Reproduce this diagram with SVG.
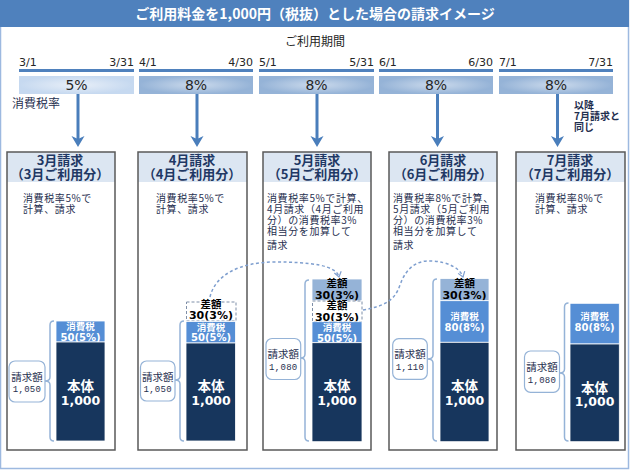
<svg xmlns="http://www.w3.org/2000/svg" width="630" height="470" viewBox="0 0 630 470">
<style>
.title{font-family:"Noto Sans CJK JP",sans-serif;font-weight:bold;font-size:14px;fill:#fff;text-anchor:middle}
.period{font-family:"Noto Sans CJK JP",sans-serif;font-size:12px;fill:#262626;text-anchor:middle}
.date{font-family:"DejaVu Sans",sans-serif;font-size:11px;fill:#262626}
.end{text-anchor:end}
.rate{font-family:"DejaVu Sans",sans-serif;font-size:14px;fill:#262626;text-anchor:middle}
.lbl{font-family:"Noto Sans CJK JP",sans-serif;font-size:12px;fill:#1F2F4F}
.note{font-family:"Noto Sans CJK JP",sans-serif;font-weight:bold;font-size:10px;fill:#1F2F4F}
.hd{font-family:"Noto Sans CJK JP",sans-serif;font-weight:bold;font-size:13px;fill:#1F3864;text-anchor:middle}
.desc{font-family:"Noto Sans CJK JP",sans-serif;font-size:10px;fill:#1F2F4F;letter-spacing:0.6px}
.boxbg{fill:#fff}
.band{fill:#DCE6F2}
.boxln{fill:none;stroke:#595959;stroke-width:1.5}
.body{fill:#17365D;stroke:#fff;stroke-width:0.8}
.tax{fill:#558ED5;stroke:#fff;stroke-width:0.8}
.diff{fill:#95B3D7;stroke:#fff;stroke-width:0.8}
.dash{fill:#fff;stroke:#7F8FA8;stroke-width:1;stroke-dasharray:3 2}
.wt{font-family:"Noto Sans CJK JP",sans-serif;font-weight:bold;fill:#fff;text-anchor:middle;font-size:9.5px}
.wn{font-family:"DejaVu Sans",sans-serif;font-weight:bold;fill:#fff;text-anchor:middle;font-size:10px}
.bbig{font-family:"Noto Sans CJK JP",sans-serif;font-weight:bold;fill:#fff;text-anchor:middle;font-size:13.5px}
.nbig{font-family:"DejaVu Sans",sans-serif;font-weight:bold;fill:#fff;text-anchor:middle;font-size:12.5px}
.kt{font-family:"Noto Sans CJK JP",sans-serif;font-weight:bold;fill:#000;text-anchor:middle;font-size:10.5px}
.kn{font-family:"DejaVu Sans",sans-serif;font-weight:bold;fill:#000;text-anchor:middle;font-size:11px}
.brace{fill:none;stroke:#95B3D7;stroke-width:1.5}
.amt{fill:#fff;stroke:#95B3D7;stroke-width:1.2}
.at{font-family:"Noto Sans CJK JP",sans-serif;font-size:10.5px;fill:#1F2F4F;text-anchor:middle}
.an{font-family:"Liberation Mono",monospace;font-size:9px;letter-spacing:0.3px;fill:#1F2F4F;text-anchor:middle}
.arr{stroke:#4A7EBB;stroke-width:3;fill:none}
.curve{fill:none;stroke:#7F9FCF;stroke-width:1.5;stroke-dasharray:3 2.5}
.tl{fill:#4F81BD}
</style>
<defs>
<radialGradient id="g5" cx="0.5" cy="0.5" r="0.5">
<stop offset="0" stop-color="#E8EFF8"/><stop offset="1" stop-color="#C6D9F0"/>
</radialGradient>
<radialGradient id="g8" cx="0.5" cy="0.5" r="0.5">
<stop offset="0" stop-color="#CBDAEC"/><stop offset="1" stop-color="#95B3D7"/>
</radialGradient>
<marker id="ah" markerUnits="userSpaceOnUse" viewBox="0 -7 14 14" refX="6" refY="0" markerWidth="14" markerHeight="14" orient="auto">
<path d="M0,-6.5 L11,0 L0,6.5 L3,0 z" fill="#4A7EBB"/>
</marker>
<marker id="vh" markerUnits="userSpaceOnUse" viewBox="-6 -5 8 10" refX="0" refY="0" markerWidth="8" markerHeight="10" orient="auto">
<path d="M-5,-3.5 L0,0 L-5,3.5" fill="none" stroke="#7F9FCF" stroke-width="1.2"/>
</marker>
</defs>

<rect x="0.5" y="0.5" width="628" height="468" fill="#fff" stroke="#9DB9E0" stroke-width="1.5"/>
<rect x="0" y="0" width="629" height="27" fill="#4F81BD"/>
<text class="title" x="315" y="19">ご利用料金を1,000円（税抜）とした場合の請求イメージ</text>

<g id="timeline">
<text class="period" x="315" y="46">ご利用期間</text>
<text class="date" x="19" y="66">3/1</text><text class="date end" x="134" y="66">3/31</text>
<text class="date" x="139" y="66">4/1</text><text class="date end" x="253" y="66">4/30</text>
<text class="date" x="259" y="66">5/1</text><text class="date end" x="374" y="66">5/31</text>
<text class="date" x="379" y="66">6/1</text><text class="date end" x="493" y="66">6/30</text>
<text class="date" x="499" y="66">7/1</text><text class="date end" x="613" y="66">7/31</text>
<rect class="tl" x="19" y="69" width="115" height="3"/>
<rect class="tl" x="139" y="69" width="114" height="3"/>
<rect class="tl" x="259" y="69" width="115" height="3"/>
<rect class="tl" x="379" y="69" width="114" height="3"/>
<rect class="tl" x="499" y="69" width="114" height="3"/>
<rect x="19" y="76" width="115" height="18" fill="url(#g5)"/>
<rect x="139" y="76" width="114" height="18" fill="url(#g8)"/>
<rect x="259" y="76" width="115" height="18" fill="url(#g8)"/>
<rect x="379" y="76" width="114" height="18" fill="url(#g8)"/>
<rect x="499" y="76" width="114" height="18" fill="url(#g8)"/>
<text class="rate" x="76.5" y="90">5%</text>
<text class="rate" x="196" y="90">8%</text>
<text class="rate" x="316.5" y="90">8%</text>
<text class="rate" x="436" y="90">8%</text>
<text class="rate" x="556" y="90">8%</text>
<text class="lbl" x="12" y="108">消費税率</text>
<text class="note" x="574" y="109">以降</text>
<text class="note" x="574" y="120">7月請求と</text>
<text class="note" x="574" y="131">同じ</text>
</g>

<g id="bill-mar">
<rect class="boxbg" x="7" y="152" width="108" height="298"/>
<rect class="band" x="7" y="152" width="108" height="30"/>
<rect class="boxln" x="7" y="152" width="108" height="298"/>
<text class="hd" x="60" y="165">3月請求</text>
<text class="hd" x="60" y="179">（3月ご利用分）</text>
<text class="desc" x="23" y="202">消費税率5%で</text>
<text class="desc" x="23" y="213">計算、請求</text>
<rect class="tax" x="56" y="321" width="49" height="21"/>
<text class="wt" x="80.5" y="330">消費税</text>
<text class="wn" x="80.5" y="340.5">50(5%)</text>
<rect class="body" x="56" y="342" width="49" height="99"/>
<text class="bbig" x="80.5" y="391">本体</text>
<text class="nbig" x="80.5" y="404.5">1,000</text>
<path class="brace" d="M54,321 Q50,321 50,325 L50,377 Q50,381 45,381 Q50,381 50,385 L50,437 Q50,441 54,441"/>
<rect class="amt" x="9" y="361" width="36" height="41" rx="6"/>
<text class="at" x="27" y="381">請求額</text>
<text class="an" x="27" y="392">1,050</text>
</g>

<g id="bill-apr">
<rect class="boxbg" x="138" y="152" width="109" height="298"/>
<rect class="band" x="138" y="152" width="109" height="30"/>
<rect class="boxln" x="138" y="152" width="109" height="298"/>
<text class="hd" x="192" y="165">4月請求</text>
<text class="hd" x="192" y="179">（4月ご利用分）</text>
<text class="desc" x="156" y="202">消費税率5%で</text>
<text class="desc" x="156" y="213">計算、請求</text>
<rect class="dash" x="186.5" y="302" width="49.5" height="19"/>
<text class="kt" x="211" y="307.5">差額</text>
<text class="kn" x="211" y="318.5">30(3%)</text>
<rect class="tax" x="186" y="321.5" width="49.5" height="21.5"/>
<text class="wt" x="211" y="330.5">消費税</text>
<text class="wn" x="211" y="341">50(5%)</text>
<rect class="body" x="186" y="343" width="49.5" height="98"/>
<text class="bbig" x="211" y="391">本体</text>
<text class="nbig" x="211" y="404.5">1,000</text>
<path class="brace" d="M184,321 Q180,321 180,325 L180,376 Q180,380 175,380 Q180,380 180,384 L180,437 Q180,441 184,441"/>
<rect class="amt" x="140.5" y="361" width="34.5" height="40" rx="6"/>
<text class="at" x="157.7" y="380.5">請求額</text>
<text class="an" x="157.7" y="391.5">1,050</text>
</g>

<g id="bill-may">
<rect class="boxbg" x="263" y="152" width="108" height="298"/>
<rect class="band" x="263" y="152" width="108" height="30"/>
<rect class="boxln" x="263" y="152" width="108" height="298"/>
<text class="hd" x="317" y="165">5月請求</text>
<text class="hd" x="317" y="179">（5月ご利用分）</text>
<text class="desc" x="267" y="202">消費税率5%で計算、</text>
<text class="desc" x="267" y="213">4月請求（4月ご利用</text>
<text class="desc" x="267" y="224">分）の消費税率3%</text>
<text class="desc" x="267" y="235">相当分を加算して</text>
<text class="desc" x="267" y="249">請求</text>
<rect class="diff" x="312" y="279" width="50" height="21.7"/>
<text class="kt" x="337" y="286.5">差額</text>
<text class="kn" x="337" y="298.5">30(3%)</text>
<rect class="dash" x="312.5" y="301" width="49.5" height="20.5"/>
<text class="kt" x="337" y="309">差額</text>
<text class="kn" x="337" y="320.5">30(3%)</text>
<rect class="tax" x="312" y="321.7" width="50" height="21"/>
<text class="wt" x="337" y="331">消費税</text>
<text class="wn" x="337" y="341.5">50(5%)</text>
<rect class="body" x="312" y="342.7" width="50" height="99"/>
<text class="bbig" x="337" y="391">本体</text>
<text class="nbig" x="337" y="404.5">1,000</text>
<path class="brace" d="M309,280 Q305,280 305,284 L305,354 Q305,358 300.5,358 Q305,358 305,362 L305,437 Q305,441 309,441"/>
<rect class="amt" x="266" y="338.5" width="34.7" height="41" rx="6"/>
<text class="at" x="283.3" y="358">請求額</text>
<text class="an" x="283.3" y="369.5">1,080</text>
</g>

<g id="bill-jun">
<rect class="boxbg" x="389" y="152" width="108" height="298"/>
<rect class="band" x="389" y="152" width="108" height="30"/>
<rect class="boxln" x="389" y="152" width="108" height="298"/>
<text class="hd" x="443" y="165">6月請求</text>
<text class="hd" x="443" y="179">（6月ご利用分）</text>
<text class="desc" x="393" y="202">消費税率8%で計算、</text>
<text class="desc" x="393" y="213">5月請求（5月ご利用</text>
<text class="desc" x="393" y="224">分）の消費税率3%</text>
<text class="desc" x="393" y="235">相当分を加算して</text>
<text class="desc" x="393" y="249">請求</text>
<rect class="diff" x="440" y="278.5" width="49" height="22.2"/>
<text class="kt" x="464.5" y="286.5">差額</text>
<text class="kn" x="464.5" y="298.5">30(3%)</text>
<rect class="tax" x="440" y="300.7" width="49" height="41.6"/>
<text class="wt" x="464.5" y="320">消費税</text>
<text class="wn" x="464.5" y="331">80(8%)</text>
<rect class="body" x="440" y="342.3" width="49" height="99.4"/>
<text class="bbig" x="464.5" y="391">本体</text>
<text class="nbig" x="464.5" y="404.5">1,000</text>
<path class="brace" d="M437,279 Q433,279 433,283 L433,355 Q433,359 427.5,359 Q433,359 433,363 L433,437 Q433,441 437,441"/>
<rect class="amt" x="392.7" y="338.7" width="34.6" height="40.6" rx="6"/>
<text class="at" x="410" y="358">請求額</text>
<text class="an" x="410" y="369.5">1,110</text>
</g>

<g id="bill-jul">
<rect class="boxbg" x="516" y="152" width="109" height="298"/>
<rect class="band" x="516" y="152" width="109" height="30"/>
<rect class="boxln" x="516" y="152" width="109" height="298"/>
<text class="hd" x="570" y="165">7月請求</text>
<text class="hd" x="570" y="179">（7月ご利用分）</text>
<text class="desc" x="535" y="202">消費税率8%で</text>
<text class="desc" x="535" y="213">計算、請求</text>
<rect class="tax" x="570" y="303.3" width="49.3" height="40.7"/>
<text class="wt" x="594.6" y="320">消費税</text>
<text class="wn" x="594.6" y="331">80(8%)</text>
<rect class="body" x="570" y="344" width="49.3" height="97.7"/>
<text class="bbig" x="594.6" y="392.5">本体</text>
<text class="nbig" x="594.6" y="406">1,000</text>
<path class="brace" d="M568.5,303 Q564.5,303 564.5,307 L564.5,369 Q564.5,373 559.5,373 Q564.5,373 564.5,377 L564.5,437 Q564.5,441 568.5,441"/>
<rect class="amt" x="524.5" y="351" width="35" height="41.3" rx="6"/>
<text class="at" x="542" y="371">請求額</text>
<text class="an" x="542" y="382.5">1,080</text>
</g>

<g id="connectors">
<line class="arr" x1="78" y1="94" x2="78" y2="142" marker-end="url(#ah)"/>
<line class="arr" x1="197" y1="94" x2="197" y2="142" marker-end="url(#ah)"/>
<line class="arr" x1="317" y1="94" x2="317" y2="142" marker-end="url(#ah)"/>
<line class="arr" x1="437.5" y1="94" x2="437.5" y2="142" marker-end="url(#ah)"/>
<line class="arr" x1="557.5" y1="94" x2="557.5" y2="142" marker-end="url(#ah)"/>
<path class="curve" d="M210,297 C215,275 240,262 275,262 C310,262 336,265 339,277" marker-end="url(#vh)"/>
<path class="curve" d="M363,310 C385,306 395,300 400,285 C407,265 420,260 432,261 C448,262 460,268 463,277" marker-end="url(#vh)"/>
</g>
</svg>
